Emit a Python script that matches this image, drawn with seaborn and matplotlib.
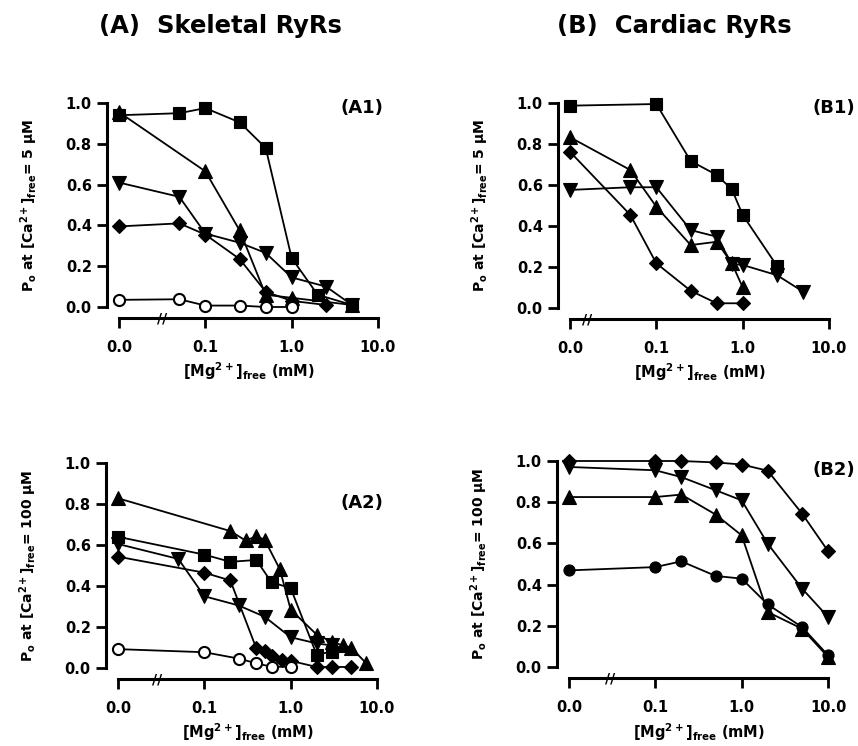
import numpy as np
import pandas as pd
import matplotlib
matplotlib.use("Agg")
import matplotlib.pyplot as plt
import seaborn as sns

# ---------------- data ----------------
# (A1) skeletal, Ca 5 uM
a1_sq_x = [0, 0.05, 0.1, 0.25, 0.5, 1.0, 2.0, 5.0]
a1_sq_y = [0.94, 0.95, 0.975, 0.905, 0.78, 0.24, 0.06, 0.01]
a1_tri_x = [0, 0.1, 0.25, 0.5, 1.0, 5.0]
a1_tri_y = [0.955, 0.665, 0.375, 0.06, 0.045, 0.01]
a1_inv_x = [0, 0.05, 0.1, 0.25, 0.5, 1.0, 2.5, 5.0]
a1_inv_y = [0.61, 0.54, 0.36, 0.315, 0.265, 0.145, 0.10, 0.01]
a1_dia_x = [0, 0.05, 0.1, 0.25, 0.5, 1.0, 2.5]
a1_dia_y = [0.395, 0.41, 0.355, 0.235, 0.075, 0.03, 0.01]
a1_cir_x = [0, 0.05, 0.1, 0.25, 0.5, 1.0]
a1_cir_y = [0.035, 0.038, 0.007, 0.007, 0.0, 0.0]

# (A2) skeletal, Ca 100 uM
a2_tri_x = [0, 0.2, 0.3, 0.4, 0.5, 0.75, 1.0, 2.0, 3.0, 4.0, 5.0, 7.5]
a2_tri_y = [0.828, 0.668, 0.622, 0.642, 0.626, 0.481, 0.285, 0.163, 0.128, 0.11, 0.10, 0.023]
a2_sq_x = [0, 0.1, 0.2, 0.4, 0.6, 1.0, 2.0, 3.0]
a2_sq_y = [0.64, 0.553, 0.518, 0.527, 0.418, 0.39, 0.065, 0.08]
a2_inv_x = [0, 0.05, 0.1, 0.25, 0.5, 1.0, 2.0, 3.0]
a2_inv_y = [0.605, 0.532, 0.35, 0.305, 0.25, 0.15, 0.12, 0.11]
a2_dia_x = [0, 0.1, 0.2, 0.4, 0.5, 0.6, 0.8, 1.0, 2.0, 3.0, 5.0]
a2_dia_y = [0.543, 0.465, 0.427, 0.096, 0.082, 0.06, 0.04, 0.035, 0.005, 0.005, 0.005]
a2_cir_x = [0, 0.1, 0.25, 0.4, 0.6, 1.0]
a2_cir_y = [0.092, 0.077, 0.046, 0.023, 0.006, 0.006]

# (B1) cardiac, Ca 5 uM
b1_sq_x = [0, 0.1, 0.25, 0.5, 0.75, 1.0, 2.5]
b1_sq_y = [0.987, 0.995, 0.717, 0.649, 0.579, 0.454, 0.205]
b1_tri_x = [0, 0.05, 0.1, 0.25, 0.5, 0.75, 1.0]
b1_tri_y = [0.833, 0.673, 0.494, 0.307, 0.323, 0.218, 0.101]
b1_inv_x = [0, 0.05, 0.1, 0.25, 0.5, 0.75, 1.0, 2.5, 5.0]
b1_inv_y = [0.576, 0.589, 0.589, 0.38, 0.348, 0.215, 0.21, 0.16, 0.08]
b1_dia_x = [0, 0.05, 0.1, 0.25, 0.5, 1.0]
b1_dia_y = [0.762, 0.454, 0.218, 0.084, 0.023, 0.023]

# (B2) cardiac, Ca 100 uM
b2_x = [0, 0.1, 0.2, 0.5, 1.0, 2.0, 5.0, 10.0]
b2_dia_y = [1.0, 1.0, 1.0, 0.993, 0.983, 0.953, 0.745, 0.563]
b2_inv_y = [0.971, 0.955, 0.922, 0.858, 0.809, 0.599, 0.381, 0.243]
b2_tri_y = [0.825, 0.825, 0.837, 0.74, 0.639, 0.267, 0.186, 0.049]
b2_cir_y = [0.469, 0.485, 0.513, 0.442, 0.429, 0.304, 0.194, 0.057]

x_ticks = [0.0, 0.1, 1.0, 10.0]
x_tick_labels = ["0.0", "0.1", "1.0", "10.0"]
y_ticks = [0.0, 0.2, 0.4, 0.6, 0.8, 1.0]
y_tick_labels = ["0.0", "0.2", "0.4", "0.6", "0.8", "1.0"]
ZERO_POS = 0.01  # where [Mg]=0 is drawn on the broken log axis

# ---------------- style ----------------
sns.set_theme(style="ticks")
plt.rcParams["font.family"] = ["DejaVu Sans"]
plt.rcParams["font.weight"] = "bold"
plt.rcParams["mathtext.fontset"] = "dejavusans"
plt.rcParams["mathtext.default"] = "bf"
for k in ("text.color", "axes.labelcolor", "xtick.color", "ytick.color", "axes.edgecolor"):
    plt.rcParams[k] = "black"

W, H = 858, 746
fig = plt.figure(figsize=(W / 100, H / 100), dpi=100)
fig.patch.set_facecolor("white")


def px_axes(left, top, right, bottom):
    return fig.add_axes([left / W, 1 - bottom / H, (right - left) / W, (bottom - top) / H])


MK = {
    "sq": dict(marker="s", markersize=8.5),
    "tri": dict(marker="^", markersize=9.5),
    "inv": dict(marker="v", markersize=9.5),
    "dia": dict(marker="D", markersize=7),
    "cir": dict(marker="o", markersize=8),
}


def series(ax, xs, ys, kind, open_marker=False):
    xs = np.asarray(xs, dtype=float)
    xp = np.where(xs == 0, ZERO_POS, xs)
    df = pd.DataFrame({"x": xp, "y": ys})
    sns.lineplot(data=df, x="x", y="y", ax=ax, color="black", linewidth=1.3,
                 markeredgecolor="black", markeredgewidth=1.5 if open_marker else 0.8,
                 markerfacecolor="white" if open_marker else "black",
                 clip_on=False, zorder=5 if open_marker else 3, sort=False,
                 estimator=None, **MK[kind])


def style_axes(ax, ylabel, brk):
    ax.set_xscale("log")
    ax.set_xlim(ZERO_POS, 10)
    ax.set_ylim(0, 1)
    for s in ("top", "right"):
        ax.spines[s].set_visible(False)
    ax.spines["left"].set_position(("outward", 8.6))
    ax.spines["bottom"].set_position(("outward", 8))
    for s in ("left", "bottom"):
        ax.spines[s].set_linewidth(2.2)
        ax.spines[s].set_color("black")
    ax.set_xticks([ZERO_POS if t == 0 else t for t in x_ticks])
    ax.set_xticklabels(x_tick_labels)
    ax.xaxis.set_minor_locator(matplotlib.ticker.NullLocator())
    ax.set_yticks(y_ticks)
    ax.set_yticklabels(y_tick_labels)
    ax.tick_params(axis="both", direction="out", length=7, width=2, colors="black",
                   labelsize=10.5)
    ax.tick_params(axis="x", pad=9)
    ax.tick_params(axis="y", pad=4)
    for lab in ax.get_xticklabels() + ax.get_yticklabels():
        lab.set_fontweight("bold")
    ax.set_xlabel(r"[Mg$^{2+}$]$_{free}$ (mM)", fontsize=10.5, fontweight="bold", va="center",
                  color="black")
    ax.xaxis.set_label_coords(0.5, -0.315)
    ax.set_ylabel(ylabel, fontsize=10, fontweight="bold", va="center", color="black")
    ax.yaxis.set_label_coords(-0.345, 0.5)
    ax.set_facecolor("white")
    ax.grid(False)
    ax.annotate("//", xy=(brk, 0), xycoords=("data", "axes fraction"),
                xytext=(0, -8), textcoords="offset points", ha="center", va="center",
                fontsize=10, fontweight="bold", color="black", annotation_clip=False)


yl5 = r"P$_o$ at [Ca$^{2+}$]$_{free}$= 5 μM"
yl100 = r"P$_o$ at [Ca$^{2+}$]$_{free}$= 100 μM"

axA1 = px_axes(119, 103, 378, 307)
axB1 = px_axes(570, 103, 829, 308)
axA2 = px_axes(118, 463, 377, 668)
axB2 = px_axes(569, 461, 828, 667)

# A1
series(axA1, a1_sq_x, a1_sq_y, "sq")
series(axA1, a1_tri_x, a1_tri_y, "tri")
series(axA1, a1_inv_x, a1_inv_y, "inv")
series(axA1, a1_dia_x, a1_dia_y, "dia")
series(axA1, a1_cir_x, a1_cir_y, "cir", open_marker=True)
style_axes(axA1, yl5, 10 ** -1.5)

# A2
series(axA2, a2_tri_x, a2_tri_y, "tri")
series(axA2, a2_sq_x, a2_sq_y, "sq")
series(axA2, a2_inv_x, a2_inv_y, "inv")
series(axA2, a2_dia_x, a2_dia_y, "dia")
series(axA2, a2_cir_x, a2_cir_y, "cir", open_marker=True)
style_axes(axA2, yl100, 10 ** -1.55)

# B1
series(axB1, b1_sq_x, b1_sq_y, "sq")
series(axB1, b1_tri_x, b1_tri_y, "tri")
series(axB1, b1_inv_x, b1_inv_y, "inv")
series(axB1, b1_dia_x, b1_dia_y, "dia")
style_axes(axB1, yl5, 10 ** -1.8)

# B2
series(axB2, b2_x, b2_dia_y, "dia")
series(axB2, b2_x, b2_inv_y, "inv")
series(axB2, b2_x, b2_tri_y, "tri")
series(axB2, b2_x, b2_cir_y, "cir")
style_axes(axB2, yl100, 10 ** -1.52)

# panel labels
fig.text(341 / W, 1 - 108 / H, "(A1)", ha="left", va="center", fontsize=13, fontweight="bold")
fig.text(813 / W, 1 - 108 / H, "(B1)", ha="left", va="center", fontsize=13, fontweight="bold")
fig.text(341 / W, 1 - 503 / H, "(A2)", ha="left", va="center", fontsize=13, fontweight="bold")
fig.text(813 / W, 1 - 470 / H, "(B2)", ha="left", va="center", fontsize=13, fontweight="bold")

# column titles
fig.text(220 / W, 1 - 26 / H, "(A)  Skeletal RyRs", ha="center", va="center", fontsize=17.5,
         fontweight="bold")
fig.text(674 / W, 1 - 26 / H, "(B)  Cardiac RyRs", ha="center", va="center", fontsize=17.5,
         fontweight="bold")

fig.savefig("out.png", dpi=100, facecolor="white")
